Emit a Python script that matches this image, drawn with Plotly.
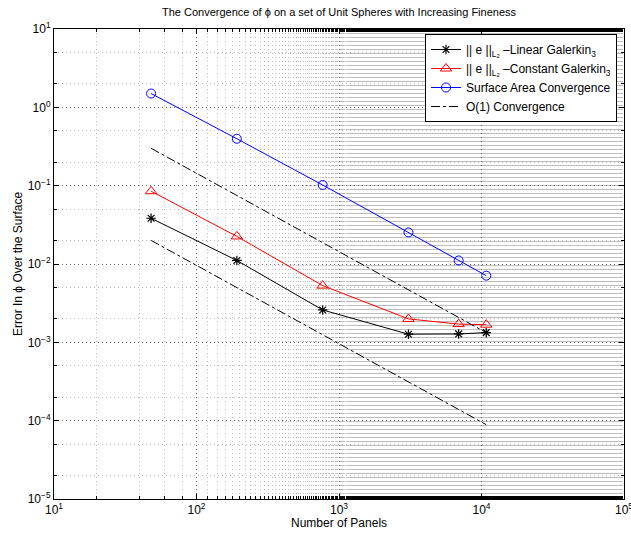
import plotly.graph_objects as go

panels = [48, 192, 768, 3072, 6912, 10800]
linear_galerkin = [0.0384, 0.0111, 0.00259, 0.00127, 0.00128, 0.00133]
constant_galerkin = [0.085, 0.0225, 0.0053, 0.00199, 0.00171, 0.00168]
surface_area = [1.5, 0.397, 0.102, 0.0253, 0.0111, 0.0071]
o1_upper = [0.3, 0.075, 0.0188, 0.0047, 0.00208, 0.00133]
o1_lower = [0.02, 0.005, 0.00125, 0.000313, 0.000139, 0.0000889]

x_tick_vals = [1e1, 1e2, 1e3, 1e4, 1e5]
x_tick_text = ["10<sup>1</sup>", "10<sup>2</sup>", "10<sup>3</sup>", "10<sup>4</sup>", "10<sup>5</sup>"]
y_tick_vals = [1e-5, 1e-4, 1e-3, 1e-2, 1e-1, 1e0, 1e1]
y_tick_text = ["10<sup>\u22125</sup>", "10<sup>\u22124</sup>", "10<sup>\u22123</sup>", "10<sup>\u22122</sup>",
               "10<sup>\u22121</sup>", "10<sup>0</sup>", "10<sup>1</sup>"]

FONT = "Liberation Sans, Arial, Helvetica, sans-serif"

fig = go.Figure()
fig.add_trace(go.Scatter(
    x=panels, y=linear_galerkin, mode="lines+markers",
    name="|| e ||<sub>L<sub>2</sub></sub> \u2013Linear Galerkin<sub>3</sub>",
    line=dict(color="black", width=1),
    marker=dict(symbol="asterisk-open", size=8, color="black", line=dict(color="black", width=1.2)),
))
fig.add_trace(go.Scatter(
    x=panels, y=constant_galerkin, mode="lines+markers",
    name="|| e ||<sub>L<sub>2</sub></sub> \u2013Constant Galerkin<sub>3</sub>",
    line=dict(color="red", width=1),
    marker=dict(symbol="triangle-up-open", size=10, color="red", line=dict(color="red", width=1)),
))
fig.add_trace(go.Scatter(
    x=panels, y=surface_area, mode="lines+markers",
    name="Surface Area Convergence",
    line=dict(color="blue", width=1),
    marker=dict(symbol="circle-open", size=9, color="blue", line=dict(color="blue", width=1)),
))
fig.add_trace(go.Scatter(
    x=panels, y=o1_upper, mode="lines",
    name="O(1) Convergence",
    line=dict(color="black", width=1, dash="dashdot"),
))
fig.add_trace(go.Scatter(
    x=panels, y=o1_lower, mode="lines",
    name="O(1) Convergence", showlegend=False,
    line=dict(color="black", width=1, dash="dashdot"),
))

axis_common = dict(
    type="log", showline=True, linecolor="black", linewidth=1, mirror="allticks",
    ticks="inside", ticklen=5, tickcolor="black", automargin=False,
    showgrid=True, gridcolor="#666666", griddash="1px,3px", gridwidth=1,
    zeroline=False, ticklabeloverflow="allow",
    tickfont=dict(family=FONT, size=12, color="black"),
    minor=dict(ticks="inside", ticklen=3, tickcolor="black", showgrid=True,
               gridcolor="#bdbdbd", griddash="1px,3px", gridwidth=1),
)

fig.update_xaxes(range=[1, 5], tickmode="array", tickvals=x_tick_vals, ticktext=x_tick_text, **axis_common)
fig.update_yaxes(range=[-5, 1], tickmode="array", tickvals=y_tick_vals, ticktext=y_tick_text, **axis_common)

fig.update_layout(
    width=631, height=538,
    margin=dict(l=54, r=7, t=29, b=39, autoexpand=False),
    paper_bgcolor="white", plot_bgcolor="white",
    font=dict(family=FONT, size=12, color="black"),
    title=dict(text="The Convergence of \u03d5 on a set of Unit Spheres with Increasing Fineness",
               x=339 / 631, xanchor="center", y=1 - 12 / 538, yanchor="middle",
               font=dict(family=FONT, size=11, color="black")),
    legend=dict(x=(425 - 54) / 570, y=1 - 5 / 470, xanchor="left", yanchor="top",
                bgcolor="white", bordercolor="black", borderwidth=1,
                font=dict(family=FONT, size=12, color="black"),
                tracegroupgap=0, itemwidth=30),
    showlegend=True,
    annotations=[
        dict(text="Number of Panels", xref="paper", yref="paper",
             x=0.5, y=-(523 - 499) / 470, xanchor="center", yanchor="middle",
             showarrow=False, font=dict(family=FONT, size=12, color="black")),
        dict(text="Error In \u03d5 Over the Surface", xref="paper", yref="paper",
             x=-(54 - 18) / 570, y=0.5, xanchor="center", yanchor="middle", textangle=-90,
             showarrow=False, font=dict(family=FONT, size=12, color="black")),
    ],
)

fig.write_html("out.html", config={"displayModeBar": False},
               post_script="document.body.style.margin='0px';")
